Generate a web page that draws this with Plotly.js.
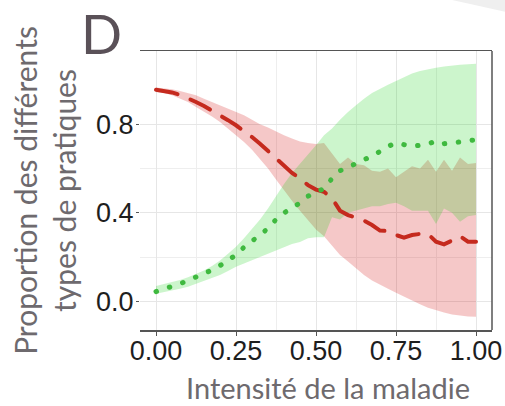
<!DOCTYPE html>
<html>
<head>
<meta charset="utf-8">
<script src="https://cdn.plot.ly/plotly-3.0.1.min.js"></script>
<style>
  html, body { margin: 0; padding: 0; background: #ffffff; }
  #chart { width: 505px; height: 406px; }
  /* rounded ends for the dashed and dotted mean lines */
  #chart path.js-line { stroke-linecap: round !important; }
</style>
</head>
<body>
<div id="chart"></div>
<script>
// Disease intensity (x) sampled every 0.025
const intensity = [0, 0.025, 0.05, 0.075, 0.1, 0.125, 0.15, 0.175, 0.2, 0.225,
  0.25, 0.275, 0.3, 0.325, 0.35, 0.375, 0.4, 0.425, 0.45, 0.475,
  0.5, 0.525, 0.55, 0.575, 0.6, 0.625, 0.65, 0.675, 0.7, 0.725,
  0.75, 0.775, 0.8, 0.825, 0.85, 0.875, 0.9, 0.925, 0.95, 0.975, 1.0];

// Red practice type: mean proportion and envelope
const redMean = [0.955, 0.95, 0.943, 0.932, 0.918, 0.9, 0.882, 0.862, 0.84, 0.818,
  0.795, 0.77, 0.742, 0.712, 0.68, 0.645, 0.61, 0.58, 0.555, 0.525,
  0.505, 0.495, 0.465, 0.41, 0.39, 0.378, 0.365, 0.345, 0.32, 0.318,
  0.30, 0.288, 0.30, 0.305, 0.305, 0.27, 0.258, 0.275, 0.295, 0.27, 0.27];
const redLow = [0.945, 0.94, 0.93, 0.915, 0.9, 0.877, 0.857, 0.835, 0.81, 0.78,
  0.75, 0.72, 0.685, 0.645, 0.6, 0.55, 0.5, 0.455, 0.41, 0.37,
  0.325, 0.295, 0.25, 0.21, 0.18, 0.15, 0.12, 0.095, 0.075, 0.058,
  0.04, 0.022, 0.005, -0.012, -0.028, -0.04, -0.05, -0.058, -0.063, -0.067, -0.069];
const redHigh = [0.965, 0.962, 0.957, 0.95, 0.94, 0.93, 0.915, 0.9, 0.885, 0.87,
  0.857, 0.84, 0.82, 0.80, 0.785, 0.766, 0.75, 0.735, 0.722, 0.715,
  0.71, 0.715, 0.67, 0.62, 0.65, 0.62, 0.615, 0.59, 0.585, 0.60,
  0.56, 0.585, 0.61, 0.60, 0.64, 0.585, 0.64, 0.59, 0.65, 0.62, 0.625];

// Green practice type: mean proportion and envelope
const greenMean = [0.045, 0.055, 0.065, 0.08, 0.095, 0.11, 0.125, 0.142, 0.162, 0.185,
  0.21, 0.245, 0.27, 0.30, 0.33, 0.37, 0.40, 0.42, 0.445, 0.475,
  0.495, 0.51, 0.555, 0.59, 0.605, 0.625, 0.64, 0.655, 0.68, 0.70,
  0.715, 0.71, 0.70, 0.705, 0.71, 0.725, 0.712, 0.715, 0.72, 0.728, 0.73];
const greenLow = [0.035, 0.042, 0.05, 0.058, 0.067, 0.08, 0.093, 0.105, 0.12, 0.138,
  0.157, 0.172, 0.187, 0.203, 0.218, 0.232, 0.245, 0.26, 0.268, 0.285,
  0.29, 0.29, 0.38, 0.37, 0.40, 0.41, 0.42, 0.43, 0.43, 0.44,
  0.445, 0.43, 0.41, 0.41, 0.41, 0.35, 0.42, 0.40, 0.36, 0.385, 0.39];
const greenHigh = [0.07, 0.078, 0.087, 0.097, 0.11, 0.125, 0.14, 0.16, 0.185, 0.215,
  0.247, 0.285, 0.325, 0.37, 0.42, 0.478, 0.53, 0.58, 0.62, 0.665,
  0.705, 0.75, 0.78, 0.82, 0.855, 0.885, 0.915, 0.94, 0.96, 0.978,
  0.995, 1.012, 1.028, 1.04, 1.048, 1.055, 1.06, 1.065, 1.068, 1.07, 1.072];

// Axis ticks
const xTickVals = [0, 0.25, 0.5, 0.75, 1];
const xTickText = ['0.00', '0.25', '0.50', '0.75', '1.00'];
const xMinorVals = [0.125, 0.375, 0.625, 0.875];
const yTickVals = [0, 0.4, 0.8];
const yTickText = ['0.0', '0.4', '0.8'];
const yMinorVals = [0.2, 0.6];

const band = (y, fill, color) => ({
  x: intensity, y: y, type: 'scatter', mode: 'lines',
  line: { width: 0, color: color }, fill: fill, fillcolor: color,
  hoverinfo: 'skip', showlegend: false
});

const traces = [
  band(redLow, 'none', 'rgba(208,0,0,0.216)'),
  band(redHigh, 'tonexty', 'rgba(208,0,0,0.216)'),
  band(greenLow, 'none', 'rgba(0,204,0,0.2)'),
  band(greenHigh, 'tonexty', 'rgba(0,204,0,0.2)'),
  {
    x: intensity, y: redMean, type: 'scatter', mode: 'lines',
    line: { color: '#c52a1e', width: 4, dash: '22px,14px' },
    showlegend: false
  },
  {
    x: intensity, y: greenMean, type: 'scatter', mode: 'lines',
    line: { color: '#3fb93f', width: 5, dash: '0.5px,13.5px' },
    showlegend: false
  }
];

const tickFont = { family: '"Liberation Sans", Arial, sans-serif', size: 27, color: '#1e1e1e' };
const titleFont = { family: 'Lato, sans-serif', size: 30, color: '#6e6a6e' };

const layout = {
  width: 505, height: 406,
  margin: { l: 140, r: 13, t: 51, b: 76 },
  paper_bgcolor: '#ffffff', plot_bgcolor: '#ffffff',
  showlegend: false,
  xaxis: {
    range: [-0.05, 1.05], zeroline: false,
    tickmode: 'array', tickvals: xTickVals, ticktext: xTickText,
    tickfont: tickFont, ticks: 'outside', ticklen: 4, tickcolor: '#555555',
    ticklabelstandoff: -8,
    showline: true, mirror: true, linecolor: '#555555', linewidth: 1.5,
    showgrid: true, gridcolor: '#e6e6e6', gridwidth: 1,
    minor: { tickmode: 'array', tickvals: xMinorVals, showgrid: true, gridcolor: '#eeeeee', ticks: '' }
  },
  yaxis: {
    range: [-0.1284, 1.13], zeroline: false,
    tickmode: 'array', tickvals: yTickVals, ticktext: yTickText,
    tickfont: tickFont, ticks: 'outside', ticklen: 3, tickcolor: '#555555',
    ticklabelstandoff: -3,
    showline: false,
    showgrid: true, gridcolor: '#e6e6e6', gridwidth: 1,
    minor: { tickmode: 'array', tickvals: yMinorVals, showgrid: true, gridcolor: '#eeeeee', ticks: '' },
    title: { text: 'Proportion des différents<br>types de pratiques', font: titleFont, standoff: 10 }
  },
  shapes: [
    { type: 'line', xref: 'paper', yref: 'paper', x0: 1, x1: 1, y0: 0, y1: 1,
      line: { color: '#555555', width: 1.5 } },
    { type: 'path', xref: 'paper', yref: 'paper',
      path: 'M 0.861 1.19 L 1.04 1.19 L 1.04 1.14 Q 0.95 1.165 0.861 1.19 Z',
      fillcolor: '#efefef', line: { width: 0 }, layer: 'below' }
  ],
  annotations: [
    { text: 'Intensité de la maladie', xref: 'paper', yref: 'paper',
      x: 0.535, y: -0.135, xanchor: 'center', yanchor: 'top', showarrow: false,
      font: { family: 'Lato, sans-serif', size: 29, color: '#6e6a6e' } },
    { text: 'D', xref: 'paper', yref: 'paper', x: -0.109, y: 1.183,
      xanchor: 'center', yanchor: 'top', height: 62, valign: 'middle', showarrow: false,
      font: { family: 'Lato, sans-serif', size: 54, color: '#5a5158' } }
  ]
};

Plotly.newPlot('chart', traces, layout, { staticPlot: true, displayModeBar: false });
</script>
</body>
</html>
